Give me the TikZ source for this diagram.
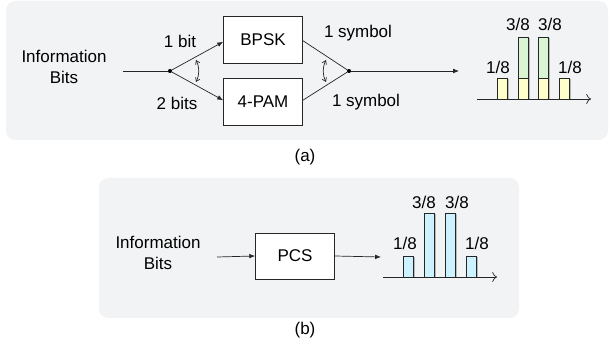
\documentclass[tikz,border=0pt]{standalone}
\usepackage{fontspec}
\setmainfont{Liberation Sans}
\usetikzlibrary{arrows.meta, positioning, calc}

\definecolor{panelgray}{HTML}{F2F3F5}
\definecolor{baryellow}{HTML}{FFFFCC}
\definecolor{bargreen}{HTML}{D9F5D3}
\definecolor{barcyan}{HTML}{CCF2FF}
\definecolor{linegray}{HTML}{262626}

\begin{document}
\begin{tikzpicture}[
    x=0.03cm, y=-0.03cm,
    font=\fontsize{14.5}{18}\selectfont,
    panel/.style={fill=panelgray, rounded corners=8pt},
    blk/.style={draw=linegray, fill=white, line width=0.6pt,
                minimum width=2.37cm, minimum height=1.41cm},
    lbl/.style={inner sep=1pt},
    conn/.style={draw=linegray, line width=0.6pt,
                 -{Latex[length=5pt, width=4pt]}},
    wire/.style={draw=linegray, line width=0.6pt},
    swing/.style={draw=linegray, line width=0.6pt,
                  {Straight Barb[length=3pt, width=4pt]}-{Straight Barb[length=3pt, width=4pt]}},
    axis/.style={draw=linegray, line width=0.6pt, -{To[length=4pt]}},
    bar/.style={draw=linegray, line width=0.6pt},
    shade/.style={fill=gray!55},
    dot/.style={circle, fill=black, inner sep=0pt, minimum size=3.5pt}
  ]
  \useasboundingbox (0,0) rectangle (609,344);

  % panel (a)
  \fill[panel] (6,1) rectangle (608,140);
  \node (infoA) [align=center] at (64,67) {Information\\Bits};
  \coordinate (inA) at (123,71);
  \node[dot] (split) at (170,71) {};
  \node[blk] (bpsk) at (263,39.5) {BPSK};
  \node[blk] (pam) at (263,102) {4-PAM};
  \node[dot] (merge) at (349,71) {};
  \coordinate (outA) at (459,71);

  \draw[wire] (inA) -- (split);
  \draw[conn] (split) -- ([yshift=-2pt]bpsk.west);
  \draw[conn] (split) -- ([yshift=1.5pt]pam.west);
  \draw[wire] ([yshift=-1pt]bpsk.east) -- (merge);
  \draw[wire] ([yshift=1.5pt]pam.east) -- (merge);
  \draw[conn] (merge) -- (outA);

  \node[lbl] (bitA) at (180,41) {1 bit};
  \node[lbl] (bitB) at (177,103) {2 bits};
  \node[lbl] (symA) at (358,33) {1 symbol};
  \node[lbl] (symB) at (366,102) {1 symbol};

  \coordinate (swL1) at (196,60);
  \coordinate (swL2) at (196,82);
  \coordinate (swR1) at (326,60);
  \coordinate (swR2) at (326,82);
  \draw[swing] (swL1) to[bend left=25] (swL2);
  \draw[swing] (swR1) to[bend right=25] (swR2);

  % histogram (a)
  \coordinate (axA0) at (477,99);
  \coordinate (axA1) at (591,99);
  \foreach \x/\t in {497/78, 518/37, 538/37, 559/78} {
    \fill[shade] (\x+2,\t+1) rectangle (\x+12,99);
    \draw[bar, fill=bargreen] (\x,\t) rectangle (\x+10,78);
    \draw[bar, fill=baryellow] (\x,78) rectangle (\x+10,99);
  }
  \draw[axis] (axA0) -- (axA1);
  \node[lbl] (pA1) at (498,67) {1/8};
  \node[lbl] (pA2) at (518,24) {3/8};
  \node[lbl] (pA3) at (550,24) {3/8};
  \node[lbl] (pA4) at (570,67) {1/8};

  \node (capA) at (305,157) {(a)};

  % panel (b)
  \fill[panel] (99,178) rectangle (519,318);
  \node (infoB) [align=center] at (158,253) {Information\\Bits};
  \coordinate (inB) at (217,257);
  \node[blk, minimum height=1.38cm] (pcs) at (295,256) {PCS};
  \coordinate (outB) at (381,257);
  \draw[conn] (inB) -- (pcs.west);
  \draw[conn] (pcs.east) -- (outB);

  % histogram (b)
  \coordinate (axB0) at (383,277);
  \coordinate (axB1) at (497,277);
  \foreach \x/\t in {403/256, 424/213, 445/213, 466/256} {
    \fill[shade] (\x+2,\t+1) rectangle (\x+12,277);
    \draw[bar, fill=barcyan] (\x,\t) rectangle (\x+10,277);
  }
  \draw[axis] (axB0) -- (axB1);
  \node[lbl] (pB1) at (405,243) {1/8};
  \node[lbl] (pB2) at (424,202) {3/8};
  \node[lbl] (pB3) at (457,202) {3/8};
  \node[lbl] (pB4) at (477,243) {1/8};

  \node (capB) at (305,330) {(b)};
\end{tikzpicture}
\end{document}
